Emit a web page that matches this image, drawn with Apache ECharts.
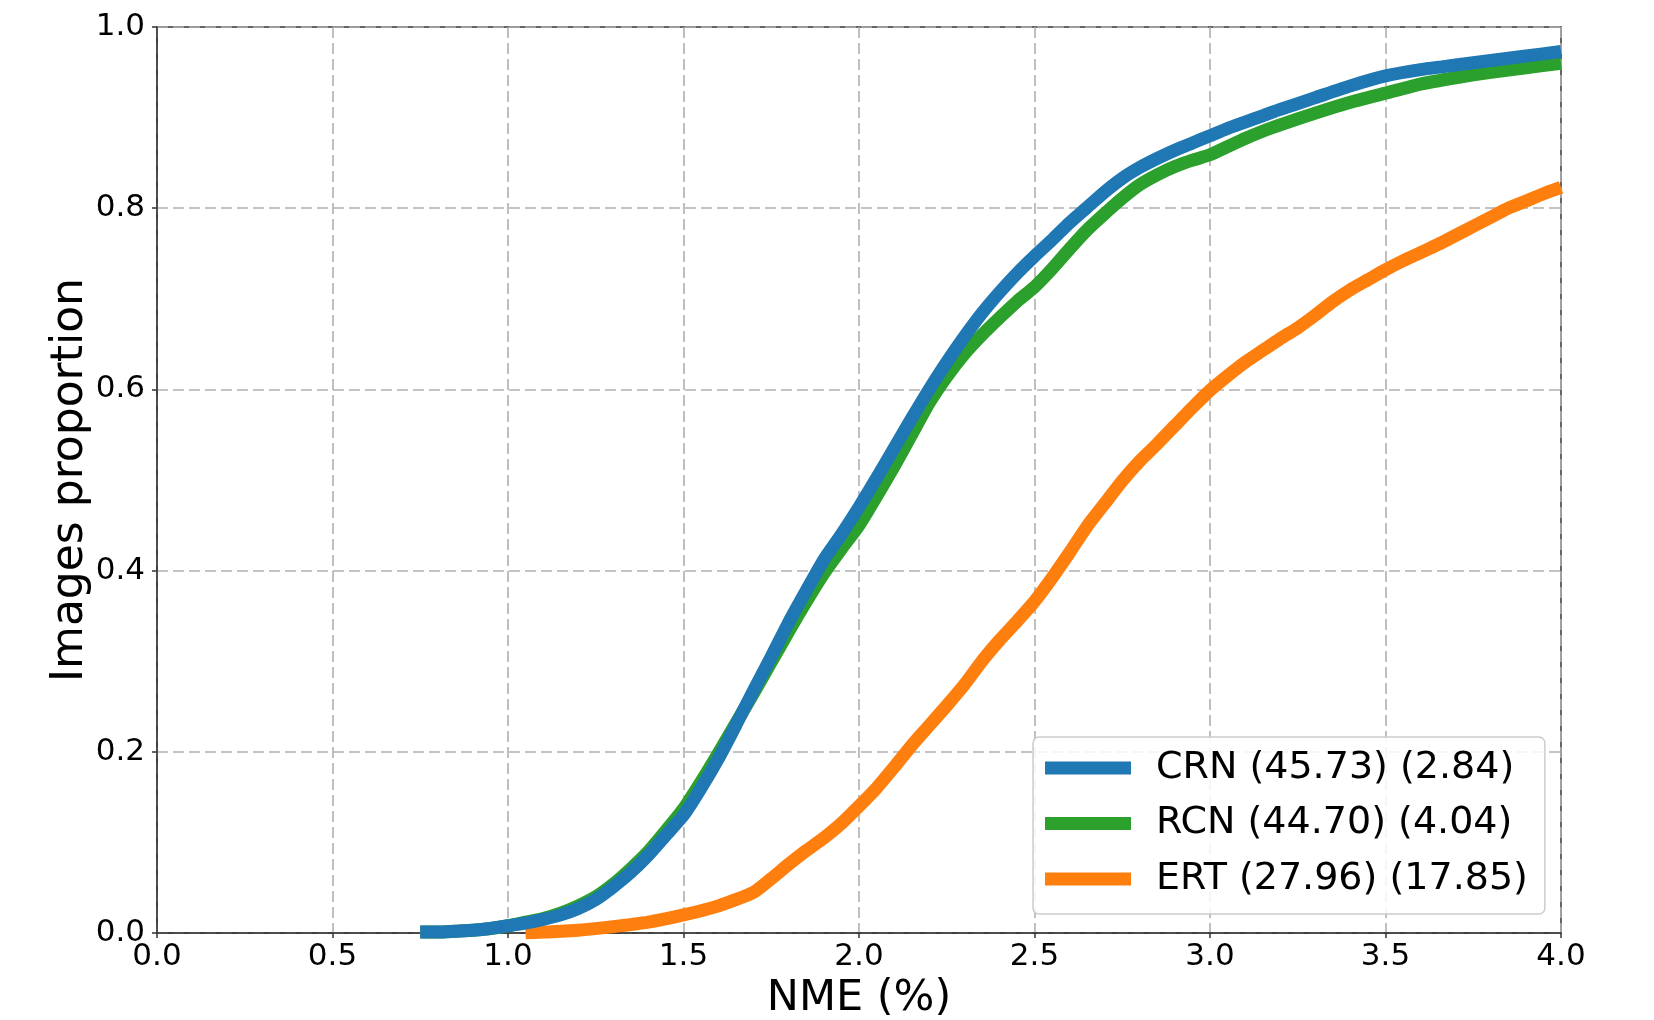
<!DOCTYPE html>
<html>
<head>
<meta charset="utf-8">
<script src="https://cdn.jsdelivr.net/npm/echarts@6/dist/echarts.min.js"></script>
<style>
html,body{margin:0;padding:0;background:#fff;}
#chart{width:1654px;height:1020px;}
</style>
</head>
<body>
<div id="chart"></div>
<script>
// ---- data ----
const xTicks = [0.0, 0.5, 1.0, 1.5, 2.0, 2.5, 3.0, 3.5, 4.0];
const yTicks = [0.0, 0.2, 0.4, 0.6, 0.8, 1.0];
const seriesNames = ['CRN (45.73) (2.84)', 'RCN (44.70) (4.04)', 'ERT (27.96) (17.85)'];

const crnX = [0.75,0.80,0.85,0.90,0.95,1.00,1.05,1.10,1.15,1.20,1.25,1.30,1.35,1.40,1.45,1.50,1.55,1.60,1.65,1.70,1.75,1.80,1.85,1.90,1.95,2.00,2.05,2.10,2.15,2.20,2.25,2.30,2.35,2.40,2.45,2.50,2.55,2.60,2.65,2.70,2.75,2.80,2.85,2.90,2.95,3.00,3.05,3.10,3.15,3.20,3.30,3.40,3.50,3.60,3.70,3.80,3.90,4.00];
const crnY = [0.001,0.001,0.002,0.003,0.005,0.008,0.011,0.015,0.020,0.027,0.037,0.051,0.067,0.086,0.108,0.130,0.160,0.193,0.230,0.268,0.305,0.343,0.378,0.412,0.440,0.470,0.502,0.535,0.568,0.600,0.630,0.658,0.684,0.707,0.728,0.747,0.765,0.784,0.801,0.818,0.833,0.845,0.855,0.864,0.872,0.880,0.888,0.895,0.902,0.909,0.922,0.935,0.946,0.953,0.958,0.963,0.968,0.973];

const rcnX = crnX;
const rcnY = [0.001,0.001,0.002,0.003,0.005,0.008,0.012,0.016,0.022,0.030,0.040,0.054,0.071,0.090,0.113,0.137,0.167,0.199,0.232,0.265,0.299,0.333,0.366,0.397,0.424,0.450,0.482,0.515,0.550,0.585,0.614,0.639,0.660,0.679,0.697,0.713,0.733,0.755,0.776,0.794,0.811,0.826,0.837,0.846,0.853,0.859,0.868,0.877,0.885,0.892,0.905,0.917,0.927,0.937,0.944,0.950,0.955,0.960];

const ertX = [1.05,1.10,1.20,1.30,1.40,1.50,1.60,1.70,1.75,1.80,1.85,1.90,1.95,2.00,2.05,2.10,2.15,2.20,2.25,2.30,2.35,2.40,2.45,2.50,2.55,2.60,2.65,2.70,2.75,2.80,2.85,2.90,2.95,3.00,3.05,3.10,3.15,3.20,3.25,3.30,3.35,3.40,3.45,3.50,3.55,3.60,3.65,3.70,3.75,3.80,3.85,3.90,3.95,4.00];
const ertY = [0.000,0.001,0.003,0.007,0.012,0.020,0.030,0.045,0.060,0.076,0.091,0.105,0.121,0.140,0.160,0.183,0.207,0.229,0.251,0.274,0.300,0.323,0.344,0.366,0.392,0.420,0.449,0.474,0.499,0.521,0.540,0.560,0.580,0.599,0.615,0.630,0.643,0.656,0.668,0.682,0.697,0.710,0.721,0.732,0.742,0.751,0.760,0.770,0.780,0.790,0.800,0.808,0.816,0.823];

const colors = ['#1f77b4', '#2ca02c', '#ff7f0e'];
const FONT = 'DejaVu Sans';

function pairs(xs, ys){ return xs.map((x,i)=>[x, ys[i]]); }

const chart = echarts.init(document.getElementById('chart'), null, {renderer:'canvas'});

function lineSeries(name, data, color, z){
  return {
    name: name, type: 'line', data: data, showSymbol: false, symbol: 'none',
    clip: true, z: z, animation: false, smooth: 0.2,
    lineStyle: {color: color, width: 13, cap: 'butt', join: 'round'},
    itemStyle: {color: color}
  };
}

const option = {
  animation: false,
  backgroundColor: '#ffffff',
  textStyle: {fontFamily: FONT},
  grid: {left: 157, right: 93, top: 27, bottom: 87, containLabel: false, outerBoundsMode: 'none',
         show: true, borderColor: '#333', borderWidth: 1.5, backgroundColor: 'transparent'},
  xAxis: {
    type: 'value', min: xTicks[0], max: xTicks[xTicks.length-1], interval: 0.5,
    name: 'NME (%)', nameLocation: 'middle', nameGap: 44, nameMoveOverlap: false,
    nameTextStyle: {fontFamily: FONT, fontSize: 43, color: '#000'},
    axisLine: {show: true, lineStyle: {color: '#333', width: 1.5}},
    axisTick: {show: true, length: 5, lineStyle: {color: '#333', width: 1.5}},
    axisLabel: {fontFamily: FONT, fontSize: 31, color: '#000', margin: 8, formatter: v => v.toFixed(1)},
    splitLine: {show: true, lineStyle: {color: '#b0b0b0', width: 1.6, type: [11, 5]}}
  },
  yAxis: {
    type: 'value', min: yTicks[0], max: yTicks[yTicks.length-1], interval: 0.2,
    name: 'Images proportion', nameLocation: 'middle', nameGap: 64, nameRotate: 90, nameMoveOverlap: false,
    nameTextStyle: {fontFamily: FONT, fontSize: 44, color: '#000'},
    axisLine: {show: true, lineStyle: {color: '#333', width: 1.5}},
    axisTick: {show: true, length: 5, lineStyle: {color: '#333', width: 1.5}},
    axisLabel: {fontFamily: FONT, fontSize: 31, color: '#000', margin: 12, formatter: v => v.toFixed(1)},
    splitLine: {show: true, lineStyle: {color: '#b0b0b0', width: 1.6, type: [11, 5]}}
  },
  legend: {
    orient: 'vertical', left: 1033, top: 737,
    padding: [11, 17, 15, 12],
    itemWidth: 86, itemHeight: 13, itemGap: 15.5,
    icon: 'rect',
    backgroundColor: 'rgba(255,255,255,0.85)',
    borderColor: '#cccccc', borderWidth: 1.5, borderRadius: 6,
    textStyle: {fontFamily: FONT, fontSize: 38, color: '#000', lineHeight: 40, padding: [0,0,0,20]},
    data: [seriesNames[0], seriesNames[1], seriesNames[2]]
  },
  series: [
    lineSeries(seriesNames[2], pairs(ertX, ertY), colors[2], 2),
    lineSeries(seriesNames[1], pairs(rcnX, rcnY), colors[1], 3),
    lineSeries(seriesNames[0], pairs(crnX, crnY), colors[0], 4)
  ]
};
chart.setOption(option);
</script>
</body>
</html>
